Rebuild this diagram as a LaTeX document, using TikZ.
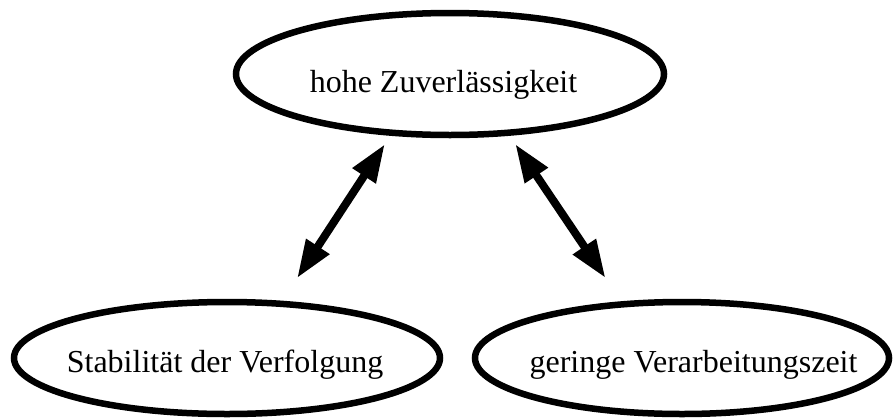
\documentclass[tikz,border=0pt]{standalone}
\usepackage{fontspec}
\setmainfont{Liberation Serif}
\usetikzlibrary{shapes.geometric,arrows.meta}
\begin{document}
\begin{tikzpicture}[x=1pt,y=-1pt,
  ell/.style={draw=black,line width=6.5pt,ellipse,inner sep=0pt},
  lbl/.style={anchor=base,inner sep=0pt,font=\fontsize{32}{38}\selectfont},
  link/.style={line width=8pt,{Triangle[length=38pt,width=26pt]}-{Triangle[length=38pt,width=26pt]}}]
\useasboundingbox (0,0) rectangle (893,418);
\node[ell,minimum width=428pt,minimum height=122pt] (top) at (450,74) {};
\node[ell,minimum width=426pt,minimum height=112pt] (left) at (227,358) {};
\node[ell,minimum width=414pt,minimum height=112pt] (right) at (682,358) {};
\node[lbl] (toplbl) at (443.5,92) {hohe Zuverlässigkeit};
\node[lbl] (leftlbl) at (225,372) {Stabilität der Verfolgung};
\node[lbl] (rightlbl) at (693.5,372) {geringe Verarbeitungszeit};
\draw[link,shorten <=10pt,shorten >=27pt] (top.226.0) -- (left.46.75);
\draw[link,shorten <=10pt,shorten >=28pt] (top.314.0) -- (right.137.4);
\end{tikzpicture}
\end{document}
